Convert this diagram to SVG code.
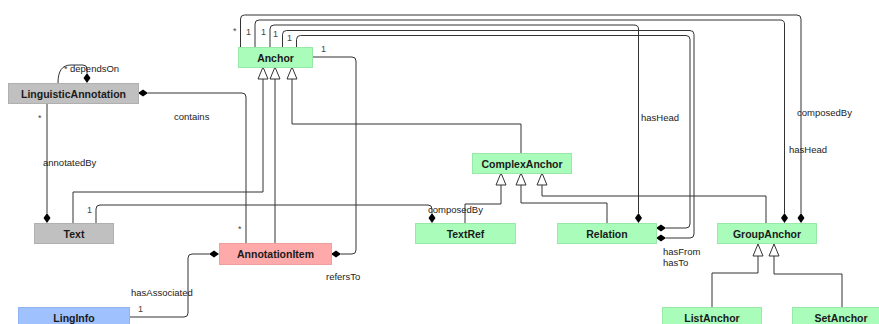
<svg xmlns="http://www.w3.org/2000/svg" width="879" height="324" viewBox="0 0 879 324">
<defs>
<style>
.n{stroke-width:1}
.g{fill:#aafcba;stroke:#98e8a8}
.gr{fill:#c0c0c0;stroke:#b0b0b0}
.pk{fill:#ffaaaa;stroke:#eea0a0}
.bl{fill:#9fc2ff;stroke:#90b2f0}
.t{font-family:"Liberation Sans",Arial,sans-serif;font-size:10.5px;font-weight:bold;fill:#1a1a1a;text-anchor:middle}
.l{font-family:"Liberation Sans",Arial,sans-serif;font-size:9.5px;fill:#222}
.m{font-family:"Liberation Sans",Arial,sans-serif;font-size:9px;fill:#444}
.c{fill:none;stroke:#333;stroke-width:1}
.tri{fill:#fff;stroke:#333;stroke-width:1}
.dia{fill:#000;stroke:none}
</style>
</defs>
<rect width="879" height="324" fill="#fff"/>
<g id="connectors">
<path class="c" d="M240.5,47 V19 Q240.5,15 244.5,15 H797 Q801,15 801,19 V213"/>
<path class="c" d="M255,47 V24 Q255,20 259,20 H780 Q784.5,20 784.5,24 V213"/>
<path class="c" d="M270,47 V29 Q270,25 274,25 H634 Q638.5,25 638.5,29 V213"/>
<path class="c" d="M282.5,47 V34.5 Q282.5,30.5 286.5,30.5 H690 Q694,30.5 694,34.5 V234 Q694,238 690,238 H666"/>
<path class="c" d="M296.5,47 V39.5 Q296.5,35.5 300.5,35.5 H686 Q690,35.5 690,39.5 V224 Q690,228 686,228 H666"/>
<path class="c" d="M312,57 H352 Q356,57 356,61 V250 Q356,254 352,254 H341"/>
<path class="c" d="M148,93 H242 Q246,93 246,97 V243"/>
<path class="c" d="M58,83 C58,71 62,65 71,65 H83 Q87,65 87,69 V73"/>
<path class="c" d="M47,103 V213"/>
<path class="c" d="M96,223 V209 Q96,205 100,205 H428 Q432,205 432,209 V213"/>
<path class="c" d="M129,317 H184 Q188,317 188,313 V258 Q188,254 192,254 H209"/>
<path class="c" d="M73,223 V192 H263 V79"/>
<path class="c" d="M275,243 V79"/>
<path class="c" d="M521,153 V124 H292 V79"/>
<path class="c" d="M465,223 V204 H501 V185"/>
<path class="c" d="M607,223 V203 H521 V185"/>
<path class="c" d="M766,223 V196 H542 V185"/>
<path class="c" d="M712,307 V273 H758 V256"/>
<path class="c" d="M842,307 V274 H774 V256"/>
<path class="tri" d="M263,67 L258,79 H268 Z"/>
<path class="tri" d="M275,67 L270,79 H280 Z"/>
<path class="tri" d="M292,67 L287,79 H297 Z"/>
<path class="tri" d="M501,173 L496,185 H506 Z"/>
<path class="tri" d="M521,173 L516,185 H526 Z"/>
<path class="tri" d="M542,173 L537,185 H547 Z"/>
<path class="tri" d="M758,244 L753,256 H763 Z"/>
<path class="tri" d="M774,244 L769,256 H779 Z"/>
<path class="dia" d="M801,213 L804.5,218 L801,223 L797.5,218 Z"/>
<path class="dia" d="M784.5,213 L788,218 L784.5,223 L781,218 Z"/>
<path class="dia" d="M638.5,213 L642,218 L638.5,223 L635,218 Z"/>
<path class="dia" d="M656,228 L661,224.5 L666,228 L661,231.5 Z"/>
<path class="dia" d="M656,238 L661,234.5 L666,238 L661,241.5 Z"/>
<path class="dia" d="M331,254 L336,250.5 L341,254 L336,257.5 Z"/>
<path class="dia" d="M138,93 L143,89.5 L148,93 L143,96.5 Z"/>
<path class="dia" d="M87,73 L90.5,78 L87,83 L83.5,78 Z"/>
<path class="dia" d="M47,213 L50.5,218 L47,223 L43.5,218 Z"/>
<path class="dia" d="M432,213 L435.5,218 L432,223 L428.5,218 Z"/>
<path class="dia" d="M209,254 L214,250.5 L219,254 L214,257.5 Z"/>
<text class="m" x="233" y="34">*</text>
<text class="m" x="246" y="35">1</text>
<text class="m" x="261" y="35">1</text>
<text class="m" x="273" y="37">1</text>
<text class="m" x="287" y="41">1</text>
<text class="m" x="321" y="52">1</text>
<text class="m" x="64" y="72">*</text>
<text class="l" x="70" y="72">dependsOn</text>
<text class="m" x="38" y="121">*</text>
<text class="l" x="174" y="120">contains</text>
<text class="l" x="43" y="166">annotatedBy</text>
<text class="m" x="87" y="213">1</text>
<text class="l" x="428" y="213">composedBy</text>
<text class="m" x="238" y="232">*</text>
<text class="l" x="326" y="280">refersTo</text>
<text class="l" x="131" y="296">hasAssociated</text>
<text class="m" x="138" y="312">1</text>
<text class="l" x="641" y="121">hasHead</text>
<text class="l" x="797" y="116">composedBy</text>
<text class="l" x="789" y="153">hasHead</text>
<text class="l" x="663" y="255">hasFrom</text>
<text class="l" x="663" y="266">hasTo</text>
</g>
<g id="Anchor"><rect class="n g" x="238.5" y="47.5" width="74" height="20"/><text class="t" x="275.5" y="61.5">Anchor</text></g>
<g id="LinguisticAnnotation"><rect class="n gr" x="8.5" y="83.5" width="130" height="20"/><text class="t" x="73.5" y="97.5">LinguisticAnnotation</text></g>
<g id="Text"><rect class="n gr" x="34.5" y="223.5" width="79" height="20"/><text class="t" x="74" y="237.5">Text</text></g>
<g id="AnnotationItem"><rect class="n pk" x="219.5" y="243.5" width="112" height="21"/><text class="t" x="275.5" y="258">AnnotationItem</text></g>
<g id="LingInfo"><rect class="n bl" x="18.5" y="307.5" width="111" height="20"/><text class="t" x="74" y="321.5">LingInfo</text></g>
<g id="ComplexAnchor"><rect class="n g" x="472.5" y="153.5" width="99" height="20"/><text class="t" x="522" y="167.5">ComplexAnchor</text></g>
<g id="TextRef"><rect class="n g" x="415.5" y="223.5" width="100" height="20"/><text class="t" x="465.5" y="237.5">TextRef</text></g>
<g id="Relation"><rect class="n g" x="557.5" y="223.5" width="99" height="20"/><text class="t" x="607" y="237.5">Relation</text></g>
<g id="GroupAnchor"><rect class="n g" x="717.5" y="223.5" width="99" height="20"/><text class="t" x="767" y="237.5">GroupAnchor</text></g>
<g id="ListAnchor"><rect class="n g" x="662.5" y="307.5" width="99" height="20"/><text class="t" x="712" y="321.5">ListAnchor</text></g>
<g id="SetAnchor"><rect class="n g" x="792.5" y="307.5" width="98" height="20"/><text class="t" x="841" y="321.5">SetAnchor</text></g>
</svg>
